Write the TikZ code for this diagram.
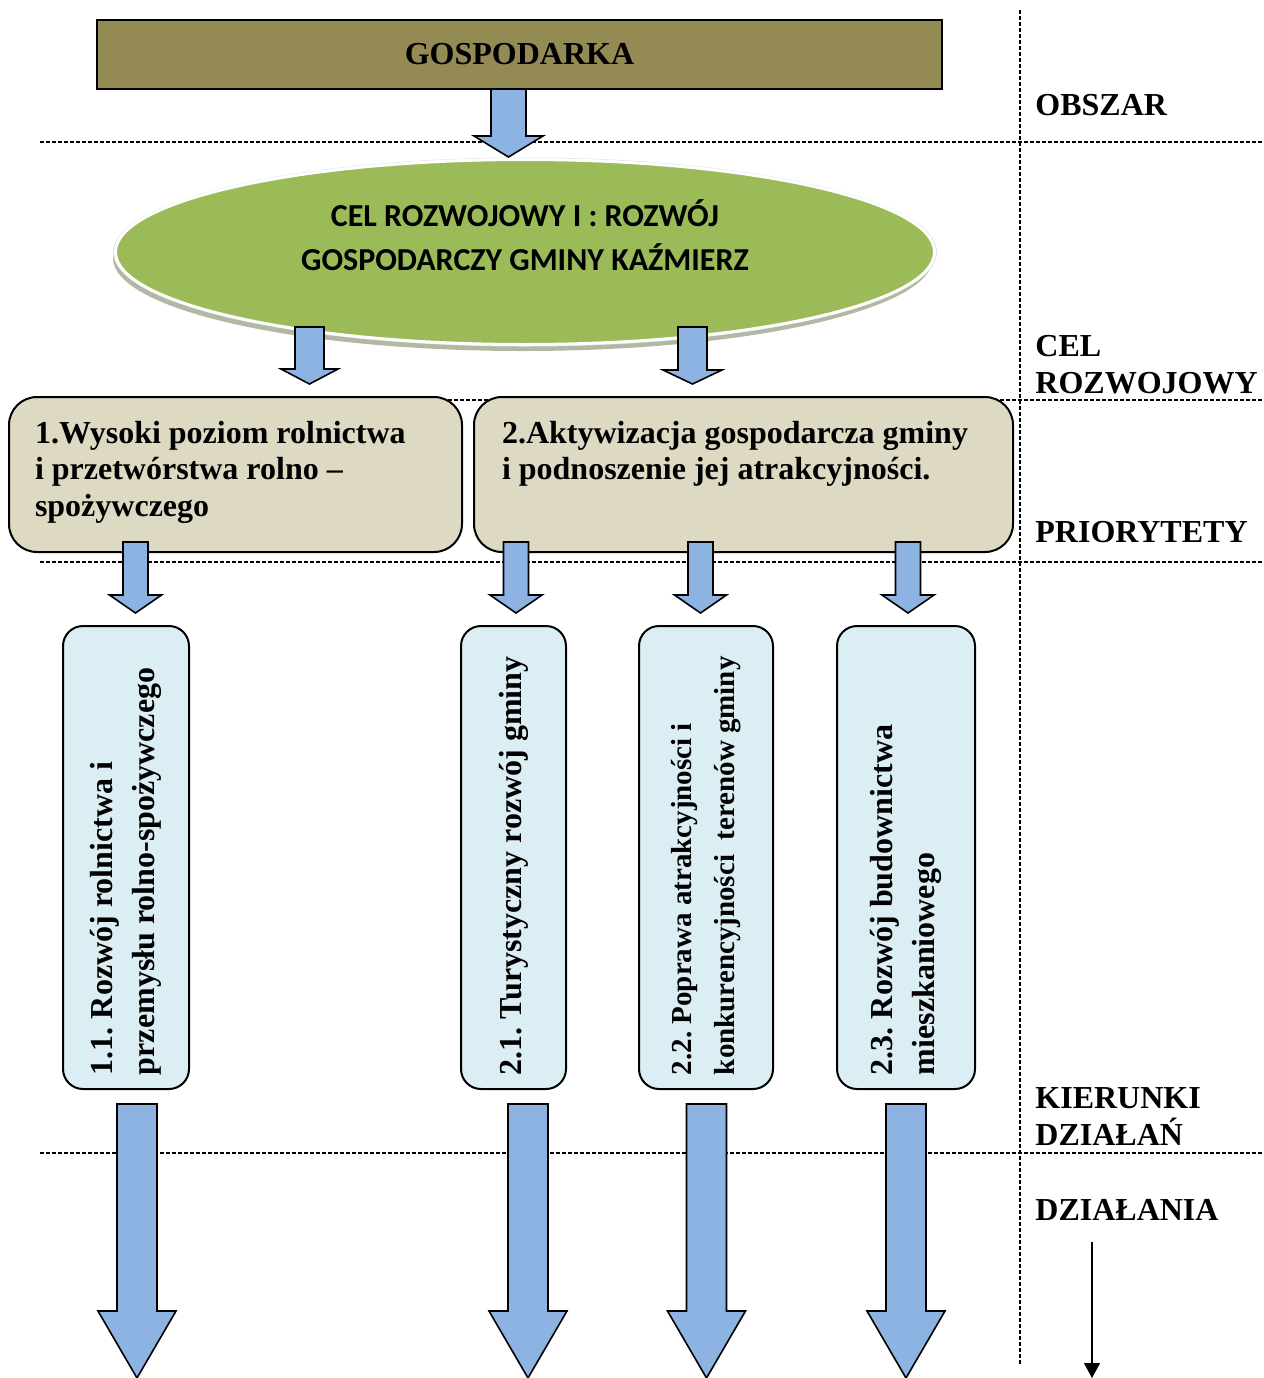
\documentclass[tikz,border=0pt]{standalone}
\usepackage{fontspec}
\setmainfont{Liberation Serif}
\newfontfamily\calibrifont{Carlito}
\usetikzlibrary{shapes.geometric,arrows.meta}

\definecolor{olivebox}{HTML}{948A54}
\definecolor{celgreen}{HTML}{9BBB59}
\definecolor{priobox}{HTML}{DDD9C3}
\definecolor{kierbox}{HTML}{DAEEF3}
\definecolor{arrowblue}{HTML}{8DB3E2}
\definecolor{rimshadow}{HTML}{B2B8A4}

\tikzset{
  sepline/.style={dash pattern=on 2pt off 1pt, line width=0.9pt},
  blockarrow/.style={draw=black, fill=arrowblue, line width=0.8pt, line join=miter},
  prio/.style={rectangle, rounded corners=14pt, draw, line width=1pt, fill=priobox, inner sep=0pt},
  kier/.style={rectangle, rounded corners=10pt, draw, line width=1pt, fill=kierbox, inner sep=0pt, rotate=90},
  levellabel/.style={anchor=base west, inner sep=0pt, align=left}
}

% block arrow: centre x, top, head start, tip, half shaft, half head
\newcommand{\blockarr}[6]{%
  \draw[blockarrow] (#1-#5,#2) -- (#1+#5,#2) -- (#1+#5,#3) -- (#1+#6,#3)
    -- (#1,#4) -- (#1-#6,#3) -- (#1-#5,#3) -- cycle;}

\begin{document}
\frenchspacing
\begin{tikzpicture}[x=0.5pt, y=-0.5pt, font=\fontsize{16}{18.3}\selectfont\bfseries]
  \useasboundingbox (0,0) rectangle (1264,1378);

  % Level separators
  \foreach \y in {142,400,562,1153}
    \draw[sepline] (40,\y) -- (1264,\y);
  \draw[sepline] (1020,10) -- (1020,1365);

  % Area
  \node[rectangle, draw, line width=1pt, fill=olivebox, minimum width=422.5pt, minimum height=34.5pt] (gosp) at (519.5,54.5) {GOSPODARKA};

  % Development goal
  \fill[rimshadow] (523,258) ellipse [x radius=410, y radius=93];
  \fill[white!88!black] (525,252) ellipse [x radius=412, y radius=94.5];
  \node[ellipse, draw=white, line width=1.5pt, fill=celgreen, minimum width=409.5pt, minimum height=92.5pt, inner sep=0pt,
    font=\calibrifont\fontsize{16}{22}\selectfont\bfseries] (cel) at (525,252)
    {\parbox[c][52pt][t]{240pt}{\centering CEL ROZWOJOWY I : ROZWÓJ\\GOSPODARCZY GMINY KAŹMIERZ}};

  % Priorities
  \node[prio, minimum width=226.5pt, minimum height=77.5pt] (prio1) at (235.5,474.5)
    {\parbox[c][53.5pt][t]{200.5pt}{\raggedright 1.Wysoki poziom rolnictwa\\ i przetwórstwa rolno –\\ spożywczego}};
  \node[prio, minimum width=269.5pt, minimum height=77.5pt] (prio2) at (743.5,474.5)
    {\parbox[c][53.5pt][t]{241.5pt}{\raggedright 2.Aktywizacja gospodarcza gminy\\ i podnoszenie jej atrakcyjności.}};

  % Directions of action
  \node[kier, minimum width=231.5pt, minimum height=63pt] (kier11) at (126,857.5)
    {\parbox{217.5pt}{\raggedright\fontsize{16}{21}\selectfont 1.1. Rozwój rolnictwa i\\ przemysłu rolno-spożywczego}};
  \node[kier, minimum width=231.5pt, minimum height=52.5pt] (kier21) at (513.5,857.5)
    {\parbox{217.5pt}{\raggedright\fontsize{16}{21}\selectfont 2.1. Turystyczny rozwój gminy}};
  \node[kier, minimum width=231.5pt, minimum height=67pt] (kier22) at (706,857.5)
    {\parbox{217.5pt}{\raggedright\fontsize{14.5}{21.5}\selectfont 2.2. Poprawa atrakcyjności i\\ \mbox{konkurencyjności~ terenów gminy}}};
  \node[kier, minimum width=231.5pt, minimum height=69pt] (kier23) at (906,857.5)
    {\parbox{217.5pt}{\raggedright\fontsize{16}{21}\selectfont 2.3. Rozwój budownictwa\\ mieszkaniowego}};

  % Level labels
  \node[levellabel] (obszar) at (1035,115) {OBSZAR};
  \node[levellabel] (celroz) at (1035,393) {CEL\\ROZWOJOWY};
  \node[levellabel] (prior) at (1035,542) {PRIORYTETY};
  \node[levellabel] (kierunki) at (1035,1145) {KIERUNKI\\DZIAŁAŃ};
  \node[levellabel] (dzialania) at (1035,1220) {DZIAŁANIA};

  % Block arrows
  \blockarr{508.5}{89}{136}{157}{17.5}{34.5}
  \blockarr{309.5}{327}{369}{384}{14.5}{28.5}
  \blockarr{692.5}{327}{370}{384}{14.5}{29.5}
  \foreach \x in {135.5,516,700.5,908}
    {\blockarr{\x}{542}{595}{613}{12.5}{26}}
  \foreach \x in {137,528,706.5,906}
    {\blockarr{\x}{1104}{1311}{1378}{20}{39}}

  % Time arrow
  \coordinate (dzstart) at (1092,1242);
  \coordinate (dzend) at (1092,1378);
  \draw[line width=0.7pt, -{Triangle[length=7.5pt, width=8pt]}] (dzstart) -- (dzend);
\end{tikzpicture}
\end{document}
